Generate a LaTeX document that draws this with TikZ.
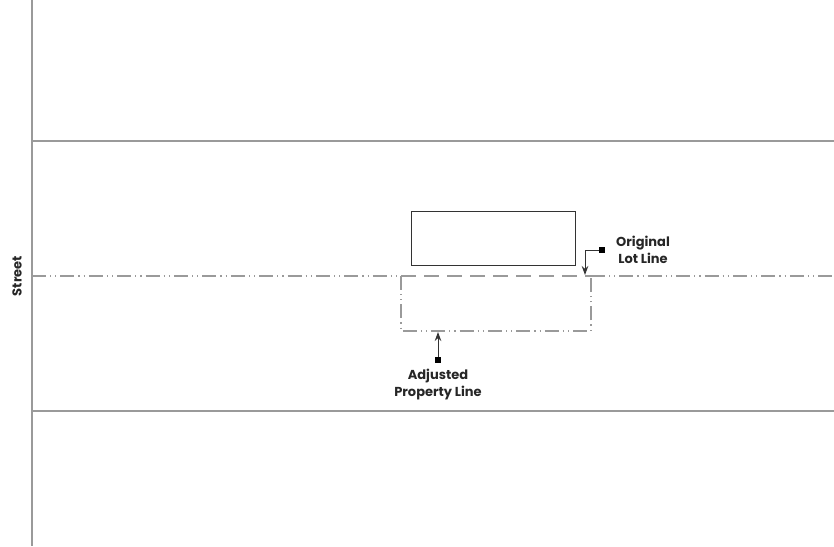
\documentclass[tikz,border=0pt]{standalone}
\usepackage{fontspec}
\setmainfont{Poppins}
\usetikzlibrary{arrows.meta, positioning}
\definecolor{lotgray}{HTML}{9A9A9A}
\tikzset{
road/.style={draw=lotgray, line width=1.1pt}, % street edges
dashdotdot/.style={draw=lotgray, line width=1.1pt, dash pattern=on 14pt off 4pt on 1.2pt off 4pt on 1.2pt off 4pt},
lotdash/.style={draw=lotgray, line width=1.4pt, dash pattern=on 15pt off 8pt},
leader/.style={draw=black!80, line width=0.9pt, -{Stealth[length=9pt,width=6.5pt]}},
tag/.style={fill=black, inner sep=0pt, minimum size=5.5pt},
lbl/.style={font=\bfseries\fontsize{13}{17}\selectfont, align=center, text=black!85},
}
\begin{document}
\begin{tikzpicture}[x=1pt, y=-1pt]
\useasboundingbox (0,0) rectangle (834,546);
% street edges
\draw[road] (32,0) -- (32,546);
\draw[road] (32,141) -- (834,141);
\draw[road] (32,411) -- (834,411);
\node[lbl, rotate=90] (street) at (17,276) {Street};
% lot lines
\coordinate (ll) at (32,276);
\coordinate (a1) at (401,276);
\coordinate (a2) at (591,276);
\coordinate (rr) at (834,276);
\draw[dashdotdot] (ll) -- (a1);
\draw[dashdotdot] (a2) -- (rr);
\draw[lotdash] (a1) -- (a2);
\draw[dashdotdot] (a1) -- (401,331) -- (591,331) -- (a2);
% building
\draw[black!80, line width=0.8pt] (411,211) rectangle (575,265);
% original lot line leader
\node[tag] (osq) at (602,250) {};
\coordinate (otip) at (585,275);
\draw[leader] (osq.west) -| (otip);
\node[lbl] (orig) at (643,250) {Original\\Lot Line};
% adjusted property line leader
\node[tag] (asq) at (438,360) {};
\coordinate (atip) at (438,332);
\draw[leader] (asq.north) -- (atip);
\node[lbl] (adj) at (438,385) {Adjusted\\Property Line};
\end{tikzpicture}
\end{document}
